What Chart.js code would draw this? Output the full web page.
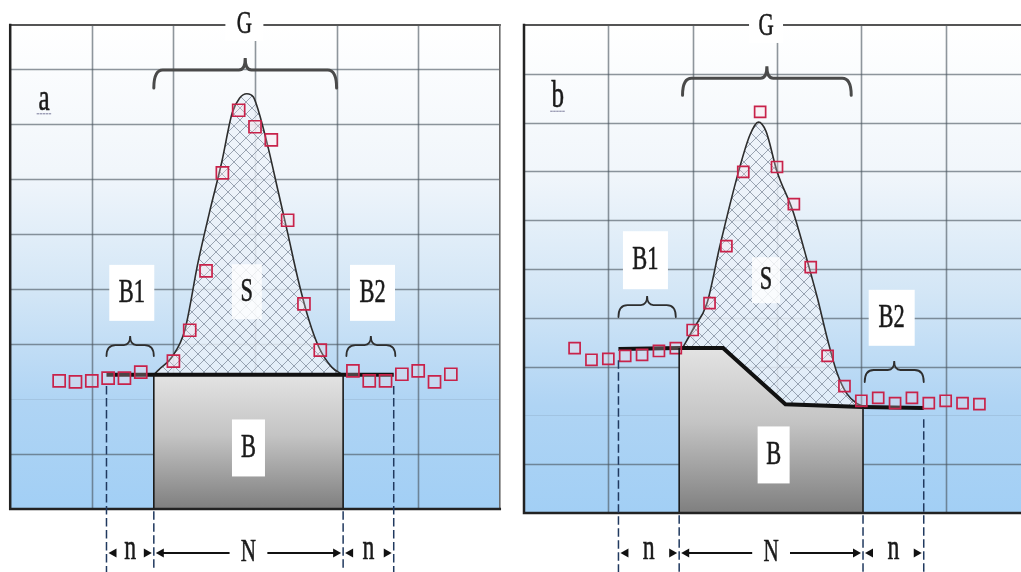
<!DOCTYPE html>
<html><head><meta charset="utf-8">
<script src="https://cdn.jsdelivr.net/npm/chart.js@4.4.1/dist/chart.umd.min.js"></script>
<style>
html,body{margin:0;padding:0;background:#fff;overflow:hidden;width:1021px;height:572px;position:relative;}
#wa{position:absolute;left:0;top:0;width:510px;height:572px;}
#wb{position:absolute;left:510px;top:0;width:530px;height:572px;}
canvas{display:block;}
</style></head><body>
<div id="wa"><canvas id="ca" width="510" height="572"></canvas></div>
<div id="wb"><canvas id="cb" width="530" height="572"></canvas></div>
<script>
// ---------- DATA (panel a) ----------
const pointsXA = [3,4,5,6,7,8,10,11,12,13,14,15,16,17,18,19,21,22,23,24,25,26,27];
const pointsYA = [233,231,233,238,238,249,269,325,433,611,725,695,671,525,373,289,251,233,233,245,251,231,245];
const curveXA  = [8.8,9.1,9.9,10.7,11.5,12.2,12.95,13.6,14.05,14.5,14.9,15.2,15.8,16.4,17.0,17.65,18.3,18.9,19.7,20.4];
const curveYA  = [244,253,276,325,447,538,629,720,747,755,749,725,658,580,502,416,344,295,258,244];
const baseXA   = [5.9,8.8,20.4,23.5];
const baseYA   = [244,244,244,244];
const blockXA  = [8.8,20.4];
const blockYA  = [244,244];
const boundsA  = [5.9,8.8,20.4,23.5];
const gridXA   = [5,10,15,20,25];
const gridYA   = [100,300,400,500,600,700,800];
const faintYA  = [200];

// ---------- DATA (panel b) ----------
const pointsXB = [3,4,5,6,7,8,9,10,11,12,13,14,15,16,17,18,19,20,21,22,23,24,25,26,27];
const pointsYB = [338,314,316,322,324,332,338,375,430,547,699,822,709,633,504,322,260,230,236,225,236,225,230,225,223];
const curveXB  = [9.37,10.0,10.85,11.6,12.7,13.4,13.9,14.35,15.0,15.95,16.85,17.4,18.0,18.55,19.15,19.75,20.1];
const curveYB  = [336,375,430,545,697,775,801,782,700,618,510,440,355,288,244,224,219];
const baseXB   = [5.6,9.2,11.8,15.5,20.1,23.7];
const baseYB   = [336,338,338,223,217,215];
const blockXB  = [9.2,11.8,15.5,20.1];
const blockYB  = [338,338,223,217];
const boundsB  = [5.6,9.2,20.1,23.7];
const gridXB   = [5,10,15,20,25];
const gridYB   = [100,300,400,500,600,700,800,900];
const faintYB  = [200];

// ---------- annotation layout (data units) ----------
const annA = {
  ymax: 880, pad: {left:8, top:25, right:10, bottom:63},
  letter: {t:'a', x:2.08, y:744},
  gBrace: {x1:8.8, x2:20.0, y:798, tip:12, end:18, lw:3, color:'#4a4a4a'},
  b1Brace: {x1:5.9, x2:8.8, y:298, tip:9, end:11},
  b2Brace: {x1:20.6, x2:23.6, y:298, tip:9, end:11},
  labels: [
    {t:'G', x:14.35, y:880, w:38, h:32, s:32},
    {t:'B1', x:7.45, y:393, w:45, h:56, s:34},
    {t:'B2', x:22.2, y:393, w:45, h:56, s:34},
    {t:'S', x:14.5, y:395, w:30, h:55, a:0.8, s:34},
    {t:'B', x:14.6, y:111, w:33, h:57, s:34}
  ],
  arrowY: -80, rightBorder:true
};
const annB = {
  ymax: 1000, pad: {left:14, top:25, right:10, bottom:59},
  letter: {t:'b', x:2.0, y:852},
  gBrace: {x1:9.4, x2:19.4, y:891, tip:12, end:17, lw:3, color:'#4a4a4a'},
  b1Brace: {x1:5.6, x2:9.0, y:426, tip:9, end:12},
  b2Brace: {x1:20.2, x2:23.7, y:293, tip:9, end:12},
  labels: [
    {t:'G', x:14.35, y:996, w:34, h:32, s:32},
    {t:'B1', x:7.2, y:518, w:45, h:58, s:34},
    {t:'B2', x:21.8, y:400, w:46, h:56, s:34},
    {t:'S', x:14.35, y:477, w:28, h:46, a:0.8, s:34},
    {t:'B', x:14.8, y:119, w:32, h:57, s:34}
  ],
  arrowY: -82, rightBorder:false
};

const FONT = '"Liberation Serif", "Times New Roman", serif';
function zip(xs, ys){ return xs.map((x,i)=>({x:x, y:ys[i]})); }

function makeHatch(){
  const s = 12, c = document.createElement('canvas');
  c.width = s; c.height = s;
  const g = c.getContext('2d');
  g.fillStyle = 'rgba(236,242,249,0.82)';
  g.fillRect(0,0,s,s);
  g.strokeStyle = 'rgba(125,138,155,0.75)';
  g.lineWidth = 1;
  g.beginPath();
  g.moveTo(-1,-1); g.lineTo(s+1,s+1);
  g.moveTo(-1,s+1); g.lineTo(s+1,-1);
  g.stroke();
  return g.createPattern(c,'repeat');
}

function txt(ctx, s, x, y, size){
  ctx.save();
  ctx.font = size + 'px ' + FONT;
  ctx.textAlign = 'center'; ctx.textBaseline = 'middle';
  ctx.fillStyle = '#1a1a1a';
  ctx.strokeStyle = '#1a1a1a'; ctx.lineWidth = 0.6;
  ctx.translate(x, y); ctx.scale(0.66, 1);
  ctx.fillText(s, 0, 0);
  ctx.strokeText(s, 0, 0);
  ctx.restore();
}
function brace(ctx, x1, x2, y, tip, end, lw, color){
  const xm = (x1+x2)/2, r = Math.min(9, (x2-x1)/5);
  ctx.save();
  ctx.strokeStyle = color || '#333'; ctx.lineWidth = lw || 2; ctx.lineCap='round';
  ctx.beginPath();
  ctx.moveTo(x1, y+end);
  ctx.quadraticCurveTo(x1, y, x1+r, y);
  ctx.lineTo(xm - r*0.7, y);
  ctx.quadraticCurveTo(xm, y, xm, y-tip);
  ctx.quadraticCurveTo(xm, y, xm + r*0.7, y);
  ctx.lineTo(x2 - r, y);
  ctx.quadraticCurveTo(x2, y, x2, y+end);
  ctx.stroke();
  ctx.restore();
}
function head(ctx, x, y, dir){
  ctx.beginPath();
  ctx.moveTo(x, y);
  ctx.lineTo(x - dir*8, y-4.5);
  ctx.lineTo(x - dir*8, y+4.5);
  ctx.closePath();
  ctx.fill();
}

function makePanel(canvasId, d){
  const hatch = makeHatch();
  const bgPlugin = {
    id: 'bg',
    beforeDatasetsDraw(chart){
      const {ctx, chartArea:a, scales:{x, y}} = chart;
      ctx.save();
      const g = ctx.createLinearGradient(0, a.top, 0, a.bottom);
      g.addColorStop(0, '#ffffff');
      g.addColorStop(0.3, '#f1f6fb');
      g.addColorStop(0.55, '#d3e6f6');
      g.addColorStop(0.78, '#afd4f4');
      g.addColorStop(1, '#a2cff5');
      ctx.fillStyle = g;
      ctx.fillRect(a.left, a.top, a.right-a.left, a.bottom-a.top);
      ctx.strokeStyle = 'rgba(75,85,95,0.62)';
      ctx.lineWidth = 1.6;
      d.gridX.forEach(v=>{ const px = Math.round(x.getPixelForValue(v))+0.5;
        ctx.beginPath(); ctx.moveTo(px, a.top); ctx.lineTo(px, a.bottom); ctx.stroke(); });
      d.gridY.forEach(v=>{ const py = Math.round(y.getPixelForValue(v))+0.5;
        ctx.beginPath(); ctx.moveTo(a.left, py); ctx.lineTo(a.right, py); ctx.stroke(); });
      ctx.strokeStyle = 'rgba(75,85,95,0.12)'; ctx.lineWidth = 1;
      d.faintY.forEach(v=>{ const py = Math.round(y.getPixelForValue(v))+0.5;
        ctx.beginPath(); ctx.moveTo(a.left, py); ctx.lineTo(a.right, py); ctx.stroke(); });
      ctx.restore();
    }
  };
  const overPlugin = {
    id: 'over',
    afterDraw(chart){
      const {ctx, chartArea:a, scales:{x, y}} = chart;
      const A = d.ann, H = chart.height;
      ctx.save();
      const bx = d.blockX, byv = d.blockY;
      const xl = x.getPixelForValue(bx[0]), xr = x.getPixelForValue(bx[bx.length-1]);
      ctx.strokeStyle = '#1a1a1a'; ctx.lineWidth = 1.6;
      ctx.beginPath();
      ctx.moveTo(xl, y.getPixelForValue(byv[0])); ctx.lineTo(xl, a.bottom);
      ctx.moveTo(xr, y.getPixelForValue(byv[byv.length-1])); ctx.lineTo(xr, a.bottom);
      ctx.stroke();
      ctx.lineCap = 'square';
      ctx.strokeStyle = '#555'; ctx.lineWidth = 2;
      ctx.beginPath(); ctx.moveTo(a.left, a.top); ctx.lineTo(a.right, a.top); ctx.stroke();
      if (A.rightBorder){ ctx.strokeStyle = '#6a6a6a'; ctx.lineWidth = 1.6;
        ctx.beginPath(); ctx.moveTo(a.right, a.top); ctx.lineTo(a.right, a.bottom); ctx.stroke(); }
      ctx.strokeStyle = '#222'; ctx.lineWidth = 2.5;
      ctx.beginPath(); ctx.moveTo(a.left, a.top); ctx.lineTo(a.left, a.bottom); ctx.lineTo(a.right, a.bottom); ctx.stroke();
      ctx.setLineDash([7,5]); ctx.lineWidth = 1.5; ctx.strokeStyle = '#20395f';
      const bpx = d.bounds.map(v=>x.getPixelForValue(v));
      const baseAt = (v)=>{
        const bxs = d.baseX, bys = d.baseY;
        for (let i=0;i<bxs.length-1;i++){ if (v>=bxs[i] && v<=bxs[i+1]){ const t=(v-bxs[i])/(bxs[i+1]-bxs[i]); return y.getPixelForValue(bys[i]+t*(bys[i+1]-bys[i])); } }
        return y.getPixelForValue(bys[v<bxs[0]?0:bys.length-1]);
      };
      [0,3].forEach(i=>{ ctx.beginPath(); ctx.moveTo(bpx[i], baseAt(d.bounds[i])+12); ctx.lineTo(bpx[i], H); ctx.stroke(); });
      [1,2].forEach(i=>{ ctx.beginPath(); ctx.moveTo(bpx[i], a.bottom+3); ctx.lineTo(bpx[i], H); ctx.stroke(); });
      ctx.setLineDash([]);
      [A.gBrace, A.b1Brace, A.b2Brace].forEach(b=>{
        brace(ctx, x.getPixelForValue(b.x1), x.getPixelForValue(b.x2), y.getPixelForValue(b.y), b.tip, b.end, b.lw || 1.8, b.color || '#2e2e2e');
      });
      A.labels.forEach(l=>{
        const px = x.getPixelForValue(l.x), py = y.getPixelForValue(l.y);
        ctx.fillStyle = 'rgba(255,255,255,' + (l.a || 1) + ')';
        ctx.fillRect(px - l.w/2, py - l.h/2, l.w, l.h);
        txt(ctx, l.t, px, py, l.s);
      });
      const lx = x.getPixelForValue(A.letter.x), ly = y.getPixelForValue(A.letter.y);
      txt(ctx, A.letter.t, lx, ly, 38);
      ctx.strokeStyle = '#7a7a9a'; ctx.lineWidth = 1; ctx.setLineDash([1.5,1.5]);
      ctx.beginPath(); ctx.moveTo(lx-7, ly+14); ctx.lineTo(lx+7, ly+14); ctx.stroke();
      ctx.setLineDash([]);
      const ay = y.getPixelForValue(A.arrowY);
      ctx.fillStyle = '#111'; ctx.strokeStyle = '#111'; ctx.lineWidth = 2.2;
      const n1 = (bpx[0]+bpx[1])/2;
      head(ctx, bpx[0]+2, ay, -1); head(ctx, bpx[1]-2, ay, 1);
      txt(ctx, 'n', n1, ay-3, 36);
      const nm = (bpx[1]+bpx[2])/2;
      ctx.beginPath(); ctx.moveTo(bpx[1]+6, ay); ctx.lineTo(nm-20, ay); ctx.moveTo(nm+20, ay); ctx.lineTo(bpx[2]-6, ay); ctx.stroke();
      head(ctx, bpx[1]+2, ay, -1); head(ctx, bpx[2]-2, ay, 1);
      txt(ctx, 'N', nm, ay, 32);
      const n2 = (bpx[2]+bpx[3])/2;
      head(ctx, bpx[2]+2, ay, -1); head(ctx, bpx[3]-2, ay, 1);
      txt(ctx, 'n', n2, ay-3, 36);
      ctx.restore();
    }
  };
  const grayFill = (c)=>{
    const ch = c.chart, a = ch.chartArea;
    if (!a) return '#bbbbbb';
    const top = ch.scales.y.getPixelForValue(Math.max.apply(null, d.blockY));
    const g = ch.ctx.createLinearGradient(0, top, 0, a.bottom);
    g.addColorStop(0, '#e3e3e3'); g.addColorStop(0.45, '#c4c4c4'); g.addColorStop(1, '#7f7f7f');
    return g;
  };
  return new Chart(document.getElementById(canvasId), {
    type: 'line',
    data: { datasets: [
      { label:'points', data: zip(d.px, d.py), showLine:false, pointStyle:'rect',
        pointRadius: d.pr, pointBorderColor:'#c8224a', pointBackgroundColor:'rgba(255,220,228,0.25)',
        pointBorderWidth:1.7, order:1 },
      { label:'baseline', data: zip(d.baseX, d.baseY), borderColor:'#111', borderWidth:4,
        pointRadius:0, fill:false, tension:0, order:2 },
      { label:'B', data: zip(d.blockX, d.blockY), borderWidth:0, borderColor:'rgba(0,0,0,0)',
        backgroundColor: grayFill, fill:'origin', pointRadius:0, tension:0, order:3 },
      { label:'S', data: zip(d.cx, d.cy), borderColor:'#2d2d2d', borderWidth:1.6,
        backgroundColor: hatch, fill:'origin', pointRadius:0, cubicInterpolationMode:'monotone', order:4 }
    ]},
    options: {
      responsive:false, animation:false, devicePixelRatio:1, events:[],
      layout:{ padding: d.ann.pad },
      plugins:{ legend:{display:false}, tooltip:{enabled:false} },
      scales:{
        x:{ type:'linear', min:0, max:30, display:false },
        y:{ type:'linear', min:0, max:d.ann.ymax, display:false }
      }
    },
    plugins:[bgPlugin, overPlugin]
  });
}

makePanel('ca', {px:pointsXA, py:pointsYA, cx:curveXA, cy:curveYA, baseX:baseXA, baseY:baseYA,
  blockX:blockXA, blockY:blockYA, bounds:boundsA, gridX:gridXA, gridY:gridYA, faintY:faintYA, ann:annA, pr:8.5});
makePanel('cb', {px:pointsXB, py:pointsYB, cx:curveXB, cy:curveYB, baseX:baseXB, baseY:baseYB,
  blockX:blockXB, blockY:blockYB, bounds:boundsB, gridX:gridXB, gridY:gridYB, faintY:faintYB, ann:annB, pr:7.8});
</script>
</body></html>
